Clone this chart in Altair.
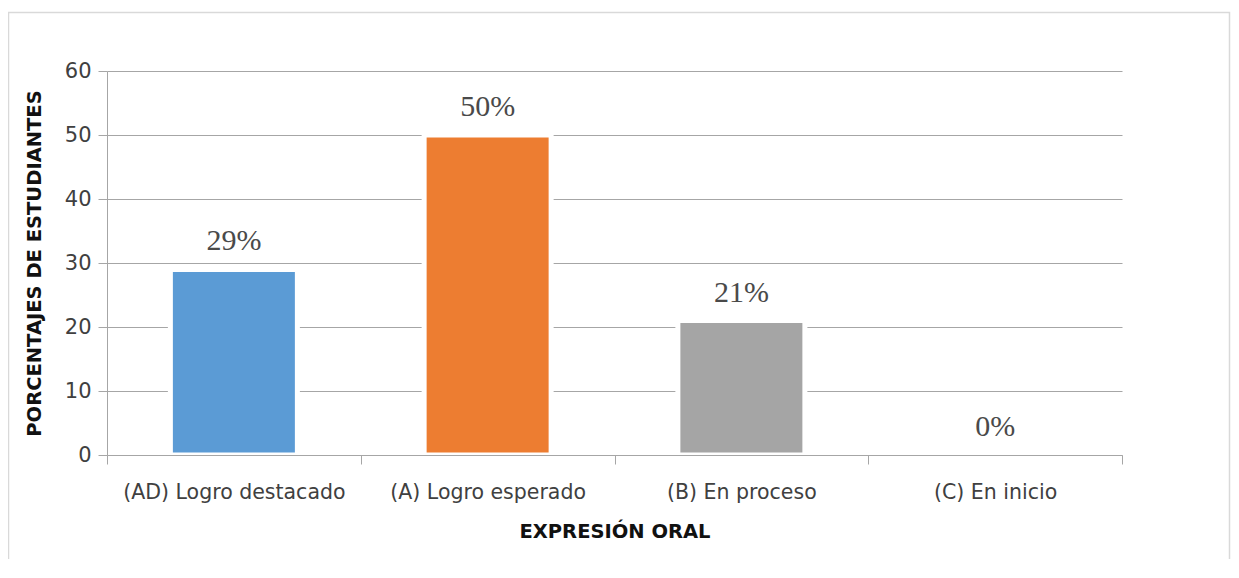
import altair as alt
import pandas as pd

categories = ["(AD) Logro destacado", "(A) Logro esperado", "(B) En proceso", "(C) En inicio"]
values = [29, 50, 21, 0]
labels = ["29%", "50%", "21%", "0%"]
colors = ["#5B9BD5", "#ED7D31", "#A5A5A5", "#FFC000"]
y_ticks = [0, 10, 20, 30, 40, 50, 60]

df = pd.DataFrame({"cat": categories, "val": values, "lab": labels})

LINE = "#a6a6a6"
SANS = "DejaVu Sans"

x_enc = alt.X(
    "cat:N", sort=categories,
    scale=alt.Scale(paddingInner=0, paddingOuter=0),
    axis=alt.Axis(
        title="EXPRESIÓN ORAL", labelAngle=0, tickBand="extent", tickSize=9,
        labelPadding=34, labelBaseline="alphabetic", labelFont=SANS, labelFontSize=20.5,
        labelLimit=400,
        labelColor="#404040", titleFont=SANS, titleFontWeight="bold", titleFontSize=19.5,
        titleColor="#111111", titleBaseline="alphabetic", titleY=82,
        domainColor=LINE, tickColor=LINE, zindex=1, grid=False,
    ),
)
y_enc = alt.Y(
    "val:Q", scale=alt.Scale(domain=[0, 60], nice=False),
    axis=alt.Axis(
        title="PORCENTAJES DE ESTUDIANTES", values=y_ticks, tickSize=9, labelPadding=7,
        labelFont=SANS, labelFontSize=21, labelColor="#404040",
        titleFont=SANS, titleFontWeight="bold", titleFontSize=19.5, titleColor="#111111",
        titleBaseline="alphabetic", titleX=-67, titleY=192, titleAngle=-90,
        domainColor=LINE, tickColor=LINE, gridColor=LINE, grid=True,
    ),
)

frame = alt.Chart(pd.DataFrame({"a": [0]})).mark_rect(
    fill=None, stroke="#d9d9d9", strokeWidth=1.5
).encode(
    x=alt.value(-98.5), x2=alt.value(1122.5), y=alt.value(-58.5), y2=alt.value(520)
)

bars = alt.Chart(df).mark_bar(size=127, stroke="white", strokeWidth=5).encode(
    x=x_enc, y=y_enc,
    color=alt.Color("cat:N", scale=alt.Scale(domain=categories, range=colors), legend=None),
)

text = alt.Chart(df).mark_text(
    font="Liberation Serif", fontSize=30, baseline="alphabetic", dy=-19, color="#4a4a4a"
).encode(x=alt.X("cat:N", sort=categories), y=alt.Y("val:Q"), text="lab:N")

chart = alt.layer(frame, bars, text).properties(
    width=1015, height=384,
    autosize=alt.AutoSizeParams(type="none"),
    padding={"left": 99, "top": 63, "right": 109, "bottom": 104},
    background="white",
).configure_view(stroke=None)

chart.save("out.html", embed_options={"renderer": "svg", "actions": False})
